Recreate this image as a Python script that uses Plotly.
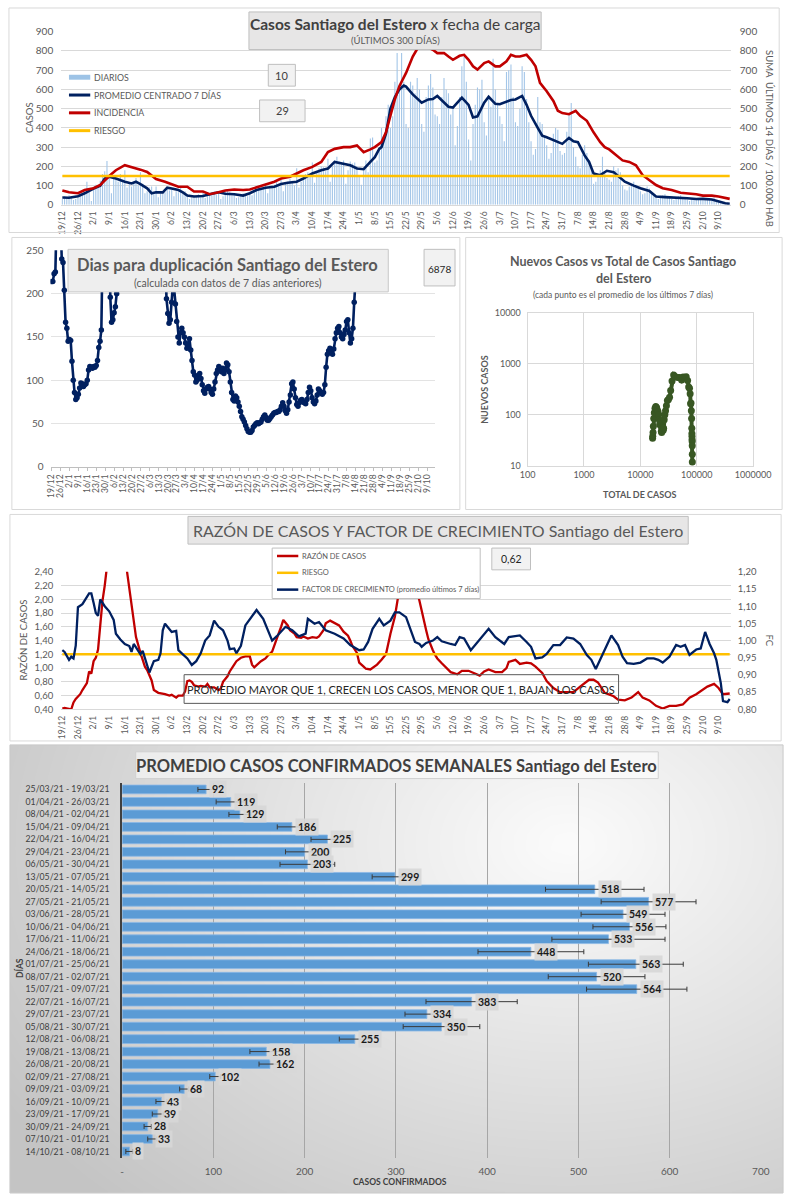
import numpy as np
import pandas as pd
import plotly.graph_objects as go

W, H = 803, 1200
FONT = "Lato"
GRAY = "#595959"
DARK = "#404040"
NAVY = "#002060"
RED = "#c00000"
YELLOW = "#ffc000"
GREEN = "#385723"


def px_x(p):
    return p / W


def px_y(p):
    return 1 - p / H


def to_date(s):
    d, m = s.split("/")
    y = 2020 if int(m) == 12 else 2021
    return pd.Timestamp(year=y, month=int(m), day=int(d))


# ------------------------------------------------------------------ data
START = "2020-12-19"
END = "2021-10-14"

# Panel 1: daily cases (one row per week starting 19/12)
daily_cases = [
    30, 45, 35, 50, 40, 25, 30,
    40, 60, 55, 70, 120, 80, 20,
    80, 105, 95, 125, 160, 175, 228,
    150, 60, 135, 140, 120, 160, 130,
    180, 90, 110, 95, 120, 140, 100,
    170, 110, 60, 70, 90, 95, 55,
    95, 40, 60, 70, 65, 85, 75,
    80, 45, 70, 65, 90, 60, 70,
    50, 30, 40, 50, 45, 55, 40,
    65, 35, 45, 55, 60, 70, 55,
    60, 30, 45, 70, 80, 65, 50,
    55, 35, 40, 55, 60, 50, 45,
    60, 50, 75, 80, 95, 90, 85,
    110, 60, 85, 100, 105, 120, 95,
    130, 70, 110, 120, 135, 125, 100,
    190, 90, 120, 145, 160, 170, 150,
    220, 115, 165, 190, 200, 195, 175,
    240, 120, 200, 230, 250, 225, 210,
    230, 110, 180, 225, 215, 220, 200,
    150, 105, 180, 230, 170, 345, 350,
    220, 230, 300, 400, 350, 460, 520,
    400, 460, 640, 790, 600, 790, 640,
    420, 400, 640, 620, 580, 660, 600,
    420, 380, 560, 620, 680, 610, 470,
    460, 420, 560, 660, 600, 580, 470,
    500, 310, 410, 560, 720, 770, 640,
    340, 230, 420, 520, 610, 600, 650,
    430, 360, 560, 510, 760, 600, 520,
    460, 420, 330, 690, 700, 730, 560,
    430, 410, 500, 720, 690, 550, 430,
    330, 260, 290, 560, 430, 420, 350,
    310, 240, 270, 370, 400, 390, 280,
    260, 270, 380, 470, 530, 300, 250,
    200, 190, 260, 310, 270, 230, 200,
    110, 120, 150, 180, 250, 160, 140,
    130, 120, 200, 180, 190, 170, 100,
    80, 75, 95, 110, 120, 105, 85,
    70, 55, 60, 95, 85, 60, 55,
    35, 30, 45, 50, 55, 45, 40,
    30, 25, 40, 45, 50, 40, 35,
    28, 20, 30, 35, 30, 35, 30,
    35, 25, 30, 35, 30, 40, 25,
    15, 8, 10, 6, 5, 4,
]

avg7_points = [
    ("19/12", 38), ("22/12", 37), ("26/12", 45), ("29/12", 60), ("2/1", 85), ("5/1", 100),
    ("7/1", 137), ("9/1", 146), ("12/1", 137), ("14/1", 128), ("16/1", 120), ("19/1", 111),
    ("21/1", 120), ("23/1", 108), ("26/1", 86), ("28/1", 60), ("30/1", 65), ("2/2", 65),
    ("4/2", 89), ("6/2", 85), ("9/2", 77), ("11/2", 65), ("13/2", 48), ("16/2", 43),
    ("20/2", 46), ("24/2", 58), ("27/2", 65), ("2/3", 58), ("6/3", 55), ("10/3", 48),
    ("13/3", 60), ("16/3", 77), ("20/3", 89), ("24/3", 94), ("27/3", 108), ("30/3", 115),
    ("3/4", 120), ("6/4", 137), ("10/4", 163), ("14/4", 180), ("17/4", 189), ("20/4", 223),
    ("24/4", 214), ("27/4", 206), ("30/4", 189), ("3/5", 185), ("6/5", 223), ("8/5", 248),
    ("10/5", 291), ("11/5", 300), ("13/5", 370), ("15/5", 500), ("17/5", 560), ("19/5", 600),
    ("21/5", 620), ("22/5", 615), ("25/5", 574), ("29/5", 531), ("1/6", 548), ("3/6", 550),
    ("5/6", 566), ("8/6", 530), ("10/6", 510), ("12/6", 506), ("14/6", 530), ("16/6", 557),
    ("19/6", 520), ("21/6", 454), ("23/6", 460), ("26/6", 531), ("28/6", 562), ("1/7", 525),
    ("3/7", 523), ("6/7", 535), ("8/7", 545), ("10/7", 548), ("13/7", 566), ("15/7", 520),
    ("17/7", 463), ("20/7", 400), ("22/7", 360), ("24/7", 351), ("27/7", 335), ("31/7", 317),
    ("3/8", 348), ("5/8", 330), ("7/8", 326), ("10/8", 257), ("12/8", 223), ("14/8", 163),
    ("17/8", 154), ("20/8", 177), ("23/8", 170), ("25/8", 150), ("28/8", 120), ("1/9", 100),
    ("4/9", 86), ("8/9", 72), ("11/9", 43), ("15/9", 40), ("18/9", 39), ("22/9", 35),
    ("25/9", 34), ("29/9", 30), ("2/10", 31), ("6/10", 28), ("9/10", 17), ("12/10", 8),
    ("14/10", 5),
]

incid_points = [
    ("19/12", 74), ("22/12", 65), ("26/12", 60), ("29/12", 77), ("2/1", 86), ("5/1", 103),
    ("9/1", 150), ("12/1", 180), ("16/1", 206), ("19/1", 197), ("23/1", 183), ("26/1", 171),
    ("30/1", 134), ("3/2", 120), ("6/2", 106), ("9/2", 94), ("13/2", 94), ("16/2", 69),
    ("20/2", 69), ("23/2", 55), ("27/2", 65), ("2/3", 75), ("6/3", 80), ("10/3", 77),
    ("13/3", 80), ("17/3", 94), ("20/3", 103), ("24/3", 120), ("27/3", 137), ("31/3", 146),
    ("3/4", 163), ("6/4", 180), ("10/4", 197), ("14/4", 223), ("17/4", 274), ("20/4", 291),
    ("24/4", 300), ("27/4", 300), ("30/4", 309), ("3/5", 274), ("6/5", 288), ("8/5", 300),
    ("11/5", 326), ("13/5", 377), ("15/5", 463), ("17/5", 549), ("19/5", 617), ("22/5", 686),
    ("25/5", 771), ("28/5", 831), ("31/5", 823), ("3/6", 806), ("5/6", 789), ("8/6", 789),
    ("10/6", 771), ("12/6", 754), ("15/6", 775), ("17/6", 780), ("19/6", 754), ("21/6", 720),
    ("23/6", 703), ("26/6", 737), ("28/6", 746), ("1/7", 720), ("3/7", 720), ("6/7", 746),
    ("8/7", 780), ("10/7", 771), ("12/7", 771), ("15/7", 780), ("17/7", 754), ("19/7", 720),
    ("21/7", 634), ("24/7", 591), ("27/7", 540), ("29/7", 489), ("31/7", 477), ("3/8", 471),
    ("6/8", 489), ("8/8", 463), ("11/8", 437), ("14/8", 377), ("17/8", 326), ("19/8", 300),
    ("21/8", 288), ("24/8", 257), ("27/8", 231), ("30/8", 223), ("2/9", 206), ("5/9", 154),
    ("8/9", 129), ("11/9", 103), ("14/9", 86), ("18/9", 77), ("22/9", 63), ("25/9", 60),
    ("29/9", 55), ("2/10", 48), ("6/10", 48), ("9/10", 43), ("12/10", 34), ("14/10", 31),
]
riesgo_incid = 150
label_box_1 = "10"
label_box_2 = "29"

# Panel 2: days for doubling (daily from 19/12)
doubling_days = [
    214, 214, 223, 225, 290, 340, 330, 290, 240, 236, 204, 167, 160,
    145, 147, 146, 122, 100, 86, 78, 80, 84, 91, 97, 96, 93, 95, 96, 100,
    112, 116, 115, 114, 116, 115, 117, 123, 138, 145, 158, 290, 380, 450, 420,
    360, 300, 196, 167, 170, 178, 185, 200, 270, 330, 380, 420, 460, 500,
    540, 560, 580, 600, 620, 640, 650, 640, 620, 600, 580, 560, 540, 520,
    500, 480, 460, 440, 420, 410, 400, 390, 380, 370, 360, 350, 340, 330,
    320, 300, 280, 260, 194, 177, 166, 170, 190, 210, 205, 188, 168, 150,
    143, 155, 160,
    155, 150, 143, 137, 140, 148, 135, 123, 110, 106, 98, 100, 105, 108,
    102, 95, 88, 85, 90, 92, 93, 90, 86, 84, 90, 98, 108, 112, 116, 114,
    110, 114, 108, 112, 120, 118, 110, 98, 86, 78, 76, 82, 80, 75, 70, 64,
    58, 55, 52, 48, 44, 41, 40, 40, 42, 46, 48, 50, 51, 50, 51,
    52, 55, 58, 60, 57, 54, 54, 56, 58, 60, 62, 63, 63, 64, 64, 66, 70, 74,
    70, 65, 62, 66, 75, 83, 96, 98, 90, 80, 72, 70,
    74, 77, 78, 75, 74, 73, 78, 86, 92, 88, 80, 75, 73, 76, 83, 90, 88, 86,
    84, 86, 95, 115, 130, 134, 137, 133, 130, 136, 148, 155, 160,
    162, 155, 150, 148, 153, 158, 168, 170, 155, 143, 148, 160, 190, 215, 280,
]
label_box_3 = "6878"

# Panel 3: total cases vs new cases (7-day average)
total_new_points = [
    (16500, 35), (16600, 38), (16800, 45), (17000, 60), (17300, 85), (17700, 110),
    (18200, 135), (18800, 145), (19400, 140), (20000, 125), (20600, 115), (21200, 100),
    (21700, 80), (22100, 65), (22500, 70), (22900, 75), (23300, 60), (23600, 48),
    (23900, 45), (24300, 50), (24700, 58), (25100, 55), (25500, 50), (25900, 55),
    (26500, 80), (27200, 100), (28000, 120), (29000, 150), (30200, 190), (31500, 200),
    (33000, 220), (34500, 300), (36500, 460), (39000, 600), (42000, 560), (46000, 540),
    (50000, 540), (54000, 480), (57500, 550), (61000, 540), (65000, 560), (69000, 470),
    (72000, 350), (74500, 330), (76500, 260), (78000, 165), (79200, 170), (80300, 120),
    (81200, 85), (81800, 55), (82200, 43), (82500, 38), (82800, 33), (83100, 30),
    (83300, 25), (83500, 17), (83600, 12),
]

# Panel 4: ratio of cases (left axis) and growth factor (right axis)
ratio_points = [
    ("19/12", 0.41), ("20/12", 0.42), ("23/12", 0.40), ("24/12", 0.50), ("25/12", 0.55),
    ("27/12", 0.62), ("28/12", 0.68), ("30/12", 0.78), ("31/12", 0.95), ("1/1", 0.92),
    ("2/1", 1.10), ("3/1", 1.15), ("4/1", 1.27), ("5/1", 1.69), ("6/1", 1.98), ("7/1", 2.20),
    ("8/1", 2.50), ("9/1", 2.80), ("10/1", 3.20), ("11/1", 3.50), ("12/1", 3.60),
    ("13/1", 3.40), ("14/1", 3.10), ("15/1", 2.80), ("16/1", 2.60), ("17/1", 2.40),
    ("19/1", 1.90), ("20/1", 1.70), ("21/1", 1.45), ("23/1", 1.22), ("24/1", 1.10),
    ("25/1", 1.02), ("26/1", 0.97), ("28/1", 0.82), ("29/1", 0.68), ("31/1", 0.64),
    ("3/2", 0.62), ("5/2", 0.60), ("6/2", 0.61), ("8/2", 0.57), ("9/2", 0.60), ("11/2", 0.60),
    ("12/2", 0.66), ("13/2", 0.81), ("14/2", 0.82), ("15/2", 0.80), ("16/2", 0.75),
    ("18/2", 0.73), ("19/2", 0.74), ("21/2", 0.73), ("22/2", 0.77), ("23/2", 0.72),
    ("25/2", 0.72), ("27/2", 0.68), ("28/2", 0.70), ("1/3", 0.80), ("3/3", 0.88),
    ("4/3", 0.95), ("6/3", 1.05), ("7/3", 1.10), ("9/3", 1.15), ("11/3", 1.17),
    ("13/3", 1.17), ("14/3", 1.05), ("15/3", 1.01), ("16/3", 1.04), ("18/3", 1.10),
    ("20/3", 1.14), ("21/3", 1.18), ("23/3", 1.24), ("24/3", 1.32), ("25/3", 1.42),
    ("27/3", 1.60), ("28/3", 1.70), ("30/3", 1.62), ("31/3", 1.55), ("2/4", 1.50),
    ("3/4", 1.45), ("5/4", 1.44), ("6/4", 1.46), ("8/4", 1.43), ("10/4", 1.45),
    ("12/4", 1.44), ("13/4", 1.46), ("15/4", 1.55), ("16/4", 1.65), ("18/4", 1.69),
    ("20/4", 1.65), ("22/4", 1.62), ("24/4", 1.53), ("26/4", 1.47), ("27/4", 1.40),
    ("28/4", 1.32), ("30/4", 1.22), ("1/5", 1.08), ("3/5", 1.02), ("4/5", 0.99),
    ("6/5", 0.98), ("8/5", 1.02), ("9/5", 1.05), ("11/5", 1.12), ("13/5", 1.20),
    ("15/5", 1.50), ("16/5", 1.62), ("17/5", 1.75), ("18/5", 1.95), ("19/5", 2.20),
    ("20/5", 2.45), ("21/5", 2.70), ("22/5", 2.90), ("23/5", 2.95), ("24/5", 2.80),
    ("25/5", 2.55), ("26/5", 2.30), ("27/5", 2.10), ("28/5", 1.98), ("29/5", 1.82),
    ("30/5", 1.68), ("31/5", 1.55), ("1/6", 1.42), ("2/6", 1.33), ("3/6", 1.26),
    ("4/6", 1.19), ("5/6", 1.14), ("7/6", 1.07), ("9/6", 1.00), ("11/6", 0.94),
    ("14/6", 0.91), ("16/6", 0.96), ("19/6", 0.96), ("23/6", 0.90), ("24/6", 0.89),
    ("26/6", 0.95), ("28/6", 0.98), ("1/7", 0.94), ("4/7", 0.94), ("6/7", 1.00),
    ("7/7", 1.09), ("10/7", 1.12), ("12/7", 1.06), ("15/7", 1.08), ("17/7", 1.07),
    ("19/7", 1.02), ("22/7", 0.93), ("24/7", 0.81), ("27/7", 0.71), ("30/7", 0.65),
    ("2/8", 0.65), ("5/8", 0.65), ("8/8", 0.73), ("12/8", 0.83), ("14/8", 0.83),
    ("16/8", 0.79), ("19/8", 0.64), ("23/8", 0.59), ("25/8", 0.54), ("28/8", 0.53),
    ("31/8", 0.57), ("3/9", 0.65), ("5/9", 0.57), ("8/9", 0.53), ("11/9", 0.45),
    ("14/9", 0.41), ("17/9", 0.45), ("20/9", 0.45), ("23/9", 0.47), ("26/9", 0.57),
    ("29/9", 0.62), ("1/10", 0.66), ("4/10", 0.73), ("7/10", 0.77), ("9/10", 0.71),
    ("11/10", 0.62), ("13/10", 0.62), ("14/10", 0.63),
]
growth_points = [
    ("19/12", 0.972), ("20/12", 0.967), ("22/12", 0.944), ("23/12", 0.953), ("24/12", 0.948),
    ("25/12", 0.985), ("26/12", 1.097), ("28/12", 1.106), ("31/12", 1.137), ("1/1", 1.137),
    ("2/1", 1.110), ("3/1", 1.080), ("4/1", 1.072), ("5/1", 1.120), ("7/1", 1.100),
    ("9/1", 1.085), ("11/1", 1.060), ("12/1", 1.020), ("14/1", 1.003), ("16/1", 0.990),
    ("18/1", 0.984), ("19/1", 0.967), ("20/1", 0.990), ("21/1", 0.980), ("23/1", 0.960),
    ("24/1", 0.970), ("26/1", 0.930), ("27/1", 0.907), ("29/1", 0.940), ("31/1", 0.944),
    ("1/2", 0.963), ("2/2", 1.030), ("3/2", 1.049), ("5/2", 1.035), ("6/2", 1.025),
    ("8/2", 1.028), ("9/2", 0.972), ("11/2", 0.960), ("13/2", 0.948), ("15/2", 0.929),
    ("17/2", 0.940), ("19/2", 0.963), ("21/2", 1.000), ("23/2", 1.015), ("25/2", 1.058),
    ("27/2", 1.040), ("1/3", 1.030), ("3/3", 1.000), ("4/3", 0.975), ("6/3", 0.977),
    ("7/3", 0.963), ("9/3", 0.985), ("11/3", 1.044), ("16/3", 1.089), ("19/3", 1.063),
    ("23/3", 1.000), ("25/3", 1.012), ("29/3", 1.040), ("1/4", 1.030), ("4/4", 1.012),
    ("7/4", 1.020), ("8/4", 1.063), ("11/4", 1.049), ("13/4", 1.054), ("16/4", 1.030),
    ("20/4", 1.020), ("24/4", 1.006), ("27/4", 0.987), ("1/5", 0.972), ("3/5", 0.974),
    ("5/5", 0.996), ("7/5", 1.034), ("10/5", 1.063), ("12/5", 1.044), ("15/5", 1.058),
    ("17/5", 1.082), ("19/5", 1.082), ("22/5", 1.068), ("24/5", 1.030), ("26/5", 0.996),
    ("28/5", 0.990), ("29/5", 0.982), ("31/5", 0.993), ("3/6", 1.000), ("5/6", 1.010),
    ("7/6", 0.998), ("11/6", 0.990), ("13/6", 0.987), ("15/6", 1.010), ("17/6", 1.006),
    ("20/6", 0.972), ("23/6", 0.996), ("26/6", 1.020), ("28/6", 1.034), ("1/7", 1.010),
    ("5/7", 0.990), ("7/7", 1.010), ("10/7", 1.012), ("12/7", 1.015), ("15/7", 0.996),
    ("17/7", 0.982), ("19/7", 0.948), ("22/7", 0.951), ("24/7", 0.961), ("27/7", 0.987),
    ("30/7", 0.987), ("2/8", 1.009), ("5/8", 1.006), ("8/8", 0.990), ("11/8", 0.958),
    ("13/8", 0.944), ("15/8", 0.917), ("17/8", 0.945), ("20/8", 0.982), ("22/8", 1.015),
    ("25/8", 0.987), ("27/8", 0.953), ("29/8", 0.934), ("1/9", 0.932), ("4/9", 0.936),
    ("7/9", 0.948), ("10/9", 0.948), ("12/9", 0.944), ("14/9", 0.936), ("17/9", 0.953),
    ("20/9", 0.987), ("22/9", 0.982), ("24/9", 0.987), ("26/9", 0.958), ("29/9", 0.974),
    ("1/10", 0.977), ("3/10", 1.025), ("5/10", 0.990), ("7/10", 0.963), ("8/10", 0.944),
    ("10/10", 0.877), ("11/10", 0.824), ("13/10", 0.821), ("14/10", 0.830),
]
riesgo_ratio = 1.20
label_box_4 = "0,62"

# Panel 5: weekly averages
week_labels = [
    "25/03/21 - 19/03/21", "01/04/21 - 26/03/21", "08/04/21 - 02/04/21",
    "15/04/21 - 09/04/21", "22/04/21 - 16/04/21", "29/04/21 - 23/04/21",
    "06/05/21 - 30/04/21", "13/05/21 - 07/05/21", "20/05/21 - 14/05/21",
    "27/05/21 - 21/05/21", "03/06/21 - 28/05/21", "10/06/21 - 04/06/21",
    "17/06/21 - 11/06/21", "24/06/21 - 18/06/21", "01/07/21 - 25/06/21",
    "08/07/21 - 02/07/21", "15/07/21 - 09/07/21", "22/07/21 - 16/07/21",
    "29/07/21 - 23/07/21", "05/08/21 - 30/07/21", "12/08/21 - 06/08/21",
    "19/08/21 - 13/08/21", "26/08/21 - 20/08/21", "02/09/21 - 27/08/21",
    "09/09/21 - 03/09/21", "16/09/21 - 10/09/21", "23/09/21 - 17/09/21",
    "30/09/21 - 24/09/21", "07/10/21 - 01/10/21", "14/10/21 - 08/10/21",
]
week_avg = [92, 119, 129, 186, 225, 200, 203, 299, 518, 577, 549, 556, 533, 448, 563,
            520, 564, 383, 334, 350, 255, 158, 162, 102, 68, 43, 39, 28, 33, 8]
week_err = [9, 16, 12, 16, 18, 21, 30, 25, 54, 52, 46, 40, 62, 58, 52,
            53, 55, 50, 24, 42, 17, 18, 12, 6, 5, 6, 6, 4, 5, 4]
bar_ticks = [0, 100, 200, 300, 400, 500, 600, 700]
bar_ticktext = ["-", "100", "200", "300", "400", "500", "600", "700"]

# ------------------------------------------------------------------ derived
days = pd.date_range(START, periods=len(daily_cases), freq="D")
dbl_days = pd.date_range(START, periods=len(doubling_days), freq="D")
tick_dates = pd.date_range(START, END, freq="7D")
tick_text = [f"{d.day}/{d.month}" for d in tick_dates]


def unzip_dates(points):
    return [to_date(p[0]) for p in points], [p[1] for p in points]


avg_x, avg_y = unzip_dates(avg7_points)
inc_x, inc_y = unzip_dates(incid_points)
rat_x, rat_y = unzip_dates(ratio_points)
gro_x, gro_y = unzip_dates(growth_points)
tot_x = [p[0] for p in total_new_points]
tot_y = [p[1] for p in total_new_points]
edge_dates = [pd.Timestamp(START), pd.Timestamp(END)]

fig = go.Figure()

# ---- Panel 1
fig.add_trace(go.Bar(x=days, y=daily_cases, marker=dict(color="#a4c6e8", line=dict(width=0)),
                     width=0.5 * 86400000, xaxis="x", yaxis="y", name="DIARIOS"))
fig.add_trace(go.Scatter(x=inc_x, y=inc_y, mode="lines", line=dict(color=RED, width=2.6),
                         xaxis="x", yaxis="y2", name="INCIDENCIA"))
fig.add_trace(go.Scatter(x=avg_x, y=avg_y, mode="lines", line=dict(color=NAVY, width=2.6),
                         xaxis="x", yaxis="y", name="PROMEDIO"))
fig.add_trace(go.Scatter(x=edge_dates, y=[riesgo_incid] * 2, mode="lines",
                         line=dict(color=YELLOW, width=2.6), xaxis="x", yaxis="y2", name="RIESGO"))

# ---- Panel 2
fig.add_trace(go.Scatter(x=dbl_days, y=doubling_days, mode="lines+markers",
                         line=dict(color=NAVY, width=2.6), marker=dict(color=NAVY, size=5.5),
                         xaxis="x2", yaxis="y3", name="duplicacion"))

# ---- Panel 3
fig.add_trace(go.Scatter(x=tot_x, y=tot_y, mode="lines+markers",
                         line=dict(color=GREEN, width=4), marker=dict(color=GREEN, size=7),
                         xaxis="x3", yaxis="y4", name="nuevos"))

# ---- Panel 4
fig.add_trace(go.Scatter(x=rat_x, y=rat_y, mode="lines", line=dict(color=RED, width=2.3),
                         xaxis="x4", yaxis="y5", name="RAZÓN"))
fig.add_trace(go.Scatter(x=edge_dates, y=[riesgo_ratio] * 2, mode="lines",
                         line=dict(color=YELLOW, width=2.6), xaxis="x4", yaxis="y5", name="RIESGO2"))
fig.add_trace(go.Scatter(x=gro_x, y=gro_y, mode="lines", line=dict(color=NAVY, width=2.3),
                         xaxis="x4", yaxis="y6", name="FC"))

# ---- Panel 5 background gradient (decoration)
gx = np.linspace(0, 1, 41)
gy = np.linspace(0, 1, 31)
GX, GY = np.meshgrid(gx, gy)
gz = np.sqrt(((GX - 0.72) / 0.75) ** 2 + ((GY - 0.78) / 0.95) ** 2)
fig.add_trace(go.Heatmap(x=gx, y=gy, z=gz, zmin=0, zmax=1.15, zsmooth="best", showscale=False,
                         colorscale=[[0, "#fbfbfb"], [1, "#c4c4c4"]], hoverinfo="skip",
                         xaxis="x5", yaxis="y7"))

fig.add_trace(go.Bar(y=week_labels, x=week_avg, orientation="h",
                     marker=dict(color="#5b9bd5", line=dict(color="#8ab8e6", width=0.8)),
                     error_x=dict(type="data", array=week_err, symmetric=True,
                                  color="#3a3a3a", thickness=1, width=2.5),
                     xaxis="x6", yaxis="y8", name="semanal"))

# ------------------------------------------------------------------ layout
tickfont_dates = dict(family=FONT, size=8.5, color=GRAY)
num_font = dict(family=FONT, size=10, color=GRAY)
date_range_wide = ["2020-12-18 12:00", "2021-10-14 12:00"]

layout = dict(
    width=W, height=H, autosize=False, margin=dict(l=0, r=0, t=0, b=0),
    paper_bgcolor="white", plot_bgcolor="rgba(0,0,0,0)", showlegend=False,
    hovermode=False, separators=",.", bargap=0.3,
    font=dict(family=FONT, color=GRAY),
    xaxis=dict(domain=[px_x(55), px_x(747)], anchor="y", type="date", range=date_range_wide,
               tickmode="array", tickvals=tick_dates, ticktext=tick_text, tickangle=-90,
               tickfont=tickfont_dates, showgrid=False, showline=True, linecolor="#d9d9d9",
               ticks="", zeroline=False, ticklabelstandoff=2),
    yaxis=dict(domain=[px_y(200), px_y(25)], anchor="x", range=[0, 900], dtick=100,
               tickfont=num_font, gridcolor="#d9d9d9", zeroline=False, ticks="",
               ticklabelstandoff=7),
    yaxis2=dict(overlaying="y", side="right", anchor="x", range=[0, 900], dtick=100,
                tickfont=num_font, showgrid=False, zeroline=False, ticks="",
                ticklabelstandoff=8),
    xaxis2=dict(domain=[px_x(44), px_x(441)], anchor="y3", type="date",
                range=["2020-12-18 06:00", "2021-10-15 01:00"], tickmode="array",
                tickvals=tick_dates, ticktext=tick_text, tickangle=-90,
                tickfont=dict(family=FONT, size=8.5, color=GRAY), showgrid=False,
                showline=True, linecolor="#bfbfbf", ticks="outside", ticklen=3,
                tickcolor="#bfbfbf", zeroline=False),
    yaxis3=dict(domain=[px_y(465), px_y(246)], anchor="x2", range=[0, 250], dtick=50,
                tickfont=num_font, gridcolor="#e3e3e3", zeroline=False, ticks="",
                ticklabelstandoff=6),
    xaxis3=dict(domain=[px_x(537), px_x(770)], anchor="y4", type="log", range=[2, 6],
                tickmode="array", tickvals=[100, 1000, 10000, 100000, 1000000],
                ticktext=["100", "1000", "10000", "100000", "1000000"],
                tickfont=dict(family=FONT, size=9, color=GRAY), gridcolor="#d9d9d9",
                showline=True, linecolor="#d9d9d9", mirror=True, ticks="", zeroline=False),
    yaxis4=dict(domain=[px_y(464), px_y(309)], anchor="x3", type="log", range=[1, 4],
                tickmode="array", tickvals=[10, 100, 1000, 10000],
                ticktext=["10", "100", "1000", "10000"],
                tickfont=dict(family=FONT, size=9, color=GRAY), gridcolor="#d9d9d9",
                showline=True, linecolor="#d9d9d9", mirror=True, ticks="", zeroline=False,
                ticklabelstandoff=4),
    xaxis4=dict(domain=[px_x(55), px_x(747)], anchor="y5", type="date", range=date_range_wide,
                tickmode="array", tickvals=tick_dates, ticktext=tick_text, tickangle=-90,
                tickfont=tickfont_dates, showgrid=False, showline=True, linecolor="#d9d9d9",
                ticks="", zeroline=False, ticklabelstandoff=2),
    yaxis5=dict(domain=[px_y(710), px_y(571)], anchor="x4", range=[0.4, 2.4], dtick=0.2,
                tick0=0.4, tickformat=".2f", tickfont=dict(family=FONT, size=9.5, color=GRAY),
                gridcolor="#d9d9d9", zeroline=False, ticks="", ticklabelstandoff=7),
    yaxis6=dict(overlaying="y5", side="right", anchor="x4", range=[0.8, 1.2], dtick=0.05,
                tick0=0.8, tickformat=".2f", tickfont=dict(family=FONT, size=9.5, color=GRAY),
                showgrid=False, zeroline=False, ticks="", ticklabelstandoff=6),
    xaxis5=dict(domain=[px_x(2), px_x(801)], anchor="y7", range=[0, 1], visible=False,
                fixedrange=True),
    yaxis7=dict(domain=[px_y(1199), px_y(746)], anchor="x5", range=[0, 1], visible=False,
                fixedrange=True),
    xaxis6=dict(domain=[px_x(118), px_x(778)], anchor="y8", range=[0, 700],
                tickmode="array", tickvals=bar_ticks, ticktext=bar_ticktext,
                tickfont=dict(family=FONT, size=10, color=GRAY), gridcolor="#a6a6a6",
                gridwidth=1, showline=False, zeroline=False, ticks="", ticklabelstandoff=6),
    yaxis8=dict(domain=[px_y(1163.3), px_y(784.7)], anchor="x6", type="category",
                categoryorder="array", categoryarray=week_labels, range=[29.5, -0.5],
                tickfont=dict(family=FONT, size=8.7, color=DARK), showgrid=False,
                showline=True, linecolor="#404040", linewidth=2, ticks="",
                ticklabelstandoff=9),
)
fig.update_layout(**layout)

shapes = []
annotations = []


def box(x0, y0, x1, y1, fill="rgba(0,0,0,0)", line="#bfbfbf", width=1):
    shapes.append(dict(type="rect", xref="paper", yref="paper", x0=px_x(x0), x1=px_x(x1),
                       y0=px_y(y1), y1=px_y(y0), fillcolor=fill,
                       line=dict(color=line, width=width), layer="above"))


def hline(x0, x1, y, color, width):
    shapes.append(dict(type="line", xref="paper", yref="paper", x0=px_x(x0), x1=px_x(x1),
                       y0=px_y(y), y1=px_y(y), line=dict(color=color, width=width),
                       layer="above"))


def text(s, x, y, size, color=GRAY, xanchor="center", angle=0, bold=False):
    if bold:
        s = f"<b>{s}</b>"
    annotations.append(dict(text=s, x=px_x(x), y=px_y(y), xref="paper", yref="paper",
                            showarrow=False, xanchor=xanchor, yanchor="middle",
                            textangle=angle, font=dict(family=FONT, size=size, color=color)))


# panel borders
box(1, 1, 797, 228, line="#d9d9d9")
box(4, 233, 467, 508, line="#d9d9d9")
box(473, 233, 800, 508, line="#d9d9d9")
box(2, 513, 799, 742, line="#d9d9d9")
box(2, 746, 801, 1199, line="#c8c8c8")

# panel 1 annotations
box(249, 5, 551, 43, fill="#e7e6e6", line="#bfbfbf")
text("<b>Casos Santiago del Estero</b> x fecha de carga", 400, 17, 15.5, color=DARK)
text("(ÚLTIMOS 300 DÍAS)", 400, 34, 9.5, color=GRAY)
shapes.append(dict(type="rect", xref="paper", yref="paper", x0=px_x(63), x1=px_x(85),
                   y0=px_y(73.5), y1=px_y(68.5), fillcolor="#9dc3e6",
                   line=dict(width=0), layer="above"))
hline(63, 85, 89, NAVY, 3)
hline(63, 85, 107, RED, 3)
hline(63, 85, 125, YELLOW, 3)
text("DIARIOS", 87, 71, 8.8, xanchor="left")
text("PROMEDIO CENTRADO 7 DÍAS", 87, 89, 8.8, xanchor="left")
text("INCIDENCIA", 87, 107, 8.8, xanchor="left")
text("RIESGO", 87, 125, 8.8, xanchor="left")
box(269, 58, 297, 80, fill="#f2f2f2", line="#bfbfbf")
text(label_box_1, 283, 69, 11, color=DARK)
box(260, 94, 307, 116, fill="#f2f2f2", line="#bfbfbf")
text(label_box_2, 283.5, 105, 11, color=DARK)
text("CASOS", 22, 112, 9.5, angle=-90)
text("SUMA  ÚLTIMOS 14 DÍAS / 100.000 HAB", 787, 133, 9.5, angle=90)

# panel 2 annotations
box(62, 245, 393, 288, fill="#eeeeee", line="#c8c8c8")
text("Dias para duplicación Santiago del Estero", 227, 261, 16.5, color=GRAY, bold=True)
text("(calculada con datos de 7 días anteriores)", 227, 279, 10.5, color=GRAY)
box(430, 245, 462, 282, fill="#f2f2f2", line="#bfbfbf")
text(label_box_3, 446, 265, 10, color="#262626")

# panel 3 annotations
text("Nuevos Casos vs Total de Casos Santiago", 636, 257, 12.5, bold=True)
text("del Estero", 636, 274, 12.5, bold=True)
text("(cada punto es el promedio de los últimos 7 días)", 636, 291, 8.5)
text("NUEVOS CASOS", 493, 387, 9, angle=-90, bold=True)
text("TOTAL DE CASOS", 653, 493, 9, bold=True)

# panel 4 annotations
box(186, 515, 703, 543, fill="#e7e6e6", line="#bfbfbf")
text("RAZÓN DE CASOS Y FACTOR DE CRECIMIENTO Santiago del Estero", 444.5, 529.5, 16)
box(273, 547, 488, 598, fill="white", line="#bfbfbf")
hline(278, 300, 555, RED, 2.5)
hline(278, 300, 572, YELLOW, 2.5)
hline(278, 300, 589, NAVY, 2.5)
text("RAZÓN DE CASOS", 302, 555, 7.5, xanchor="left")
text("RIESGO", 302, 572, 7.5, xanchor="left")
text("FACTOR DE CRECIMIENTO (promedio últimos 7 días)", 302, 589, 7.5, xanchor="left")
box(500, 547, 540, 569, fill="#f2f2f2", line="#bfbfbf")
text(label_box_4, 520, 558, 10.5, color="#262626")
box(182, 675, 631, 704, line="#595959")
text("PROMEDIO MAYOR QUE 1, CRECEN LOS CASOS, MENOR QUE 1, BAJAN LOS CASOS", 406.5, 690,
     11, color="#262626")
text("RAZÓN DE CASOS", 16, 640, 9.5, angle=-90)
text("FC", 787, 640, 9.5, angle=90)

# panel 5 annotations
box(132, 753, 672, 780, fill="rgba(255,255,255,0.55)", line="#d0d0d0")
text("PROMEDIO CASOS CONFIRMADOS SEMANALES Santiago del Estero", 402, 767, 16.5,
     color=DARK, bold=True)
text("DÍAS", 12, 972, 8.5, color=DARK, angle=-90, bold=True)
text("CASOS CONFIRMADOS", 405, 1188, 8.5, color=DARK, bold=True)

for lab, v in zip(week_labels, week_avg):
    annotations.append(dict(text=f"<b>{v}</b>", x=v, y=lab, xref="x6", yref="y8",
                            showarrow=False, xanchor="left", yanchor="middle", xshift=3,
                            bgcolor="rgba(215,215,215,0.9)", borderpad=2,
                            font=dict(family=FONT, size=10.5, color="#1a1a1a")))

fig.update_layout(shapes=shapes, annotations=annotations)
fig.write_html(
    "out.html",
    config={"displayModeBar": False, "staticPlot": True},
    post_script="document.body.style.margin='0';document.body.style.padding='0';"
                "document.body.style.overflow='hidden';",
)
